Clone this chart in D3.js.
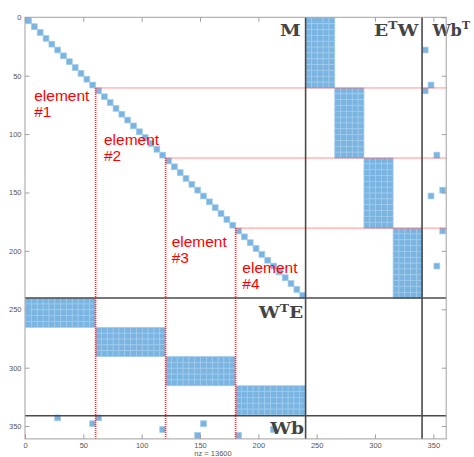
<!DOCTYPE html>
<html>
<head>
<meta charset="utf-8">
<script src="https://cdn.jsdelivr.net/npm/d3@7"></script>
<style>
  body { margin: 0; background: #fff; }
  svg { display: block; font-family: "Liberation Sans", Arial, sans-serif; }
</style>
</head>
<body>
<div id="chart"></div>
<script>
// sparsity of the assembled system, nonzeros come in 5x5 blocks (1-based indices)
const matrixSize = 360;
const blockSize = 5;
const elementRows = [[1, 60], [61, 120], [121, 180], [181, 240]];
const couplingCols = [[241, 265], [266, 290], [291, 315], [316, 340]];
const wbRows = [26, 56, 61, 116, 146, 151, 181, 211];
const wbCols = [341, 346, 341, 351, 356, 346, 356, 351];
const elementSplits = [60.5, 120.5, 180.5];
const blockRowSplits = [240.3, 341.2];
const blockColSplits = [240.5, 340.3];
const xTicks = [0, 50, 100, 150, 200, 250, 300, 350];
const yTicks = [0, 50, 100, 150, 200, 250, 300, 350];
const elementNames = ["#1", "#2", "#3", "#4"];

function main() {
    const container = document.getElementById("chart");
    const svg = d3.create("svg").attr("width", 474).attr("height", 457);

    const x = d3.scaleLinear().domain([0, matrixSize + 1]).range([25, 446.2]);
    const y = d3.scaleLinear().domain([0, matrixSize + 1]).range([17.3, 438.9]);

    // expand blocks into 5x5 cells
    const cells = [];
    const steps = (a, b) => d3.range(a, b + 1, blockSize);
    elementRows.forEach(([r0, r1], i) => {
        steps(r0, r1).forEach(r => {
            cells.push([r, r]);
            steps(couplingCols[i][0], couplingCols[i][1]).forEach(c => {
                cells.push([r, c]);
                cells.push([c, r]);
            });
        });
    });
    wbRows.forEach((r, i) => {
        cells.push([r, wbCols[i]]);
        cells.push([wbCols[i], r]);
    });
    const nz = cells.length * blockSize * blockSize;

    svg.append("g")
        .selectAll("rect")
        .data(cells)
        .join("rect")
        .attr("x", d => x(d[1] - 0.5))
        .attr("y", d => y(d[0] - 0.5))
        .attr("width", x(blockSize) - x(0))
        .attr("height", y(blockSize) - y(0))
        .attr("fill", "#7ab4e1")
        .attr("stroke", "#a2cbec")
        .attr("stroke-width", 0.7);

    // red dotted element boundaries
    const red = svg.append("g")
        .attr("stroke", "#ff2a2a")
        .attr("stroke-dasharray", "1 1");
    elementSplits.forEach(s => {
        red.append("line")
            .attr("stroke-width", 1)
            .attr("x1", x(s)).attr("x2", x(matrixSize + 1))
            .attr("y1", y(s)).attr("y2", y(s));
        red.append("line")
            .attr("stroke-width", 1.6)
            .attr("x1", x(s)).attr("x2", x(s))
            .attr("y1", y(s)).attr("y2", y(matrixSize + 1));
    });

    // block partition
    const dark = svg.append("g").attr("stroke", "#4a4a4a").attr("stroke-width", 1.6);
    blockRowSplits.forEach(s => {
        dark.append("line")
            .attr("x1", x(0)).attr("x2", x(matrixSize + 1))
            .attr("y1", y(s)).attr("y2", y(s));
    });
    blockColSplits.forEach(s => {
        dark.append("line")
            .attr("x1", x(s)).attr("x2", x(s))
            .attr("y1", y(0)).attr("y2", y(matrixSize + 1));
    });

    // element labels
    const labelAt = [[7.9, 71.7], [67.7, 109.3], [125.7, 196.4], [186.3, 219.2]];
    elementNames.forEach((name, i) => {
        const t = svg.append("text")
            .attr("x", x(labelAt[i][0]))
            .attr("y", y(labelAt[i][1]))
            .attr("fill", "#f00")
            .attr("font-size", 15.5);
        t.append("tspan").text("element");
        t.append("tspan").attr("x", x(labelAt[i][0])).attr("dy", 16).text(name);
    });

    // block names, bold serif like \mathbf (stretched a bit, cm bold is wide)
    const math = svg.append("g")
        .attr("font-family", "'DejaVu Serif', serif")
        .attr("font-weight", "bold")
        .attr("font-size", 16.5)
        .attr("fill", "#444");
    function mathLabel(parts, col, row, anchor, sx = 1.13) {
        const t = math.append("g")
            .attr("transform", `translate(${x(col)},${y(row)}) scale(${sx},1)`)
            .append("text")
            .attr("text-anchor", anchor);
        parts.forEach(p => {
            if (p.sup) {
                t.append("tspan").attr("font-size", 11).attr("dy", -6.5).text(p.s);
            } else {
                t.append("tspan").attr("dy", p.after ? 6.5 : 0).text(p.s);
            }
        });
    }
    mathLabel([{ s: "M" }], 236.3, 16, "end");
    mathLabel([{ s: "E" }, { s: "T", sup: true }, { s: "W", after: true }], 337.1, 16, "end");
    mathLabel([{ s: "Wb" }, { s: "T", sup: true }], 349.2, 16, "start", 0.98);
    mathLabel([{ s: "W" }, { s: "T", sup: true }, { s: "E", after: true }], 238.5, 257.7, "end");
    mathLabel([{ s: "Wb" }], 239.2, 357, "end");

    // axes, ticks pointing inward like matlab
    const axisColor = "#a0a0a0";
    const gx = svg.append("g")
        .attr("transform", `translate(0,${y(matrixSize + 1)})`)
        .call(d3.axisBottom(x).tickValues(xTicks).tickSizeInner(-4.5).tickSizeOuter(0).tickPadding(3.5));
    const gy = svg.append("g")
        .attr("transform", `translate(${x(0)},0)`)
        .call(d3.axisLeft(y).tickValues(yTicks).tickSizeInner(-4.5).tickSizeOuter(0).tickPadding(3.5));
    const gt = svg.append("g")
        .attr("transform", `translate(0,${y(0)})`)
        .call(d3.axisTop(x).tickValues(xTicks).tickSizeInner(-4.5).tickSizeOuter(0).tickFormat(""));
    const gr = svg.append("g")
        .attr("transform", `translate(${x(matrixSize + 1)},0)`)
        .call(d3.axisRight(y).tickValues(yTicks).tickSizeInner(-4.5).tickSizeOuter(0).tickFormat(""));
    [gx, gy, gt, gr].forEach(g => {
        g.select(".domain").remove();
        g.selectAll("line").attr("stroke", axisColor);
        g.selectAll("text")
            .attr("fill", "#555")
            .attr("font-size", 7.5)
            .attr("font-family", "'Liberation Sans', Arial, sans-serif");
    });

    svg.append("rect")
        .attr("x", x(0))
        .attr("y", y(0))
        .attr("width", x(matrixSize + 1) - x(0))
        .attr("height", y(matrixSize + 1) - y(0))
        .attr("fill", "none")
        .attr("stroke", axisColor)
        .attr("stroke-width", 1);

    svg.append("text")
        .attr("x", 213)
        .attr("y", 456)
        .attr("text-anchor", "middle")
        .attr("fill", "#555")
        .attr("font-size", 7.5)
        .text(`nz = ${nz}`);

    container.appendChild(svg.node());
}

main()
</script>
</body>
</html>
